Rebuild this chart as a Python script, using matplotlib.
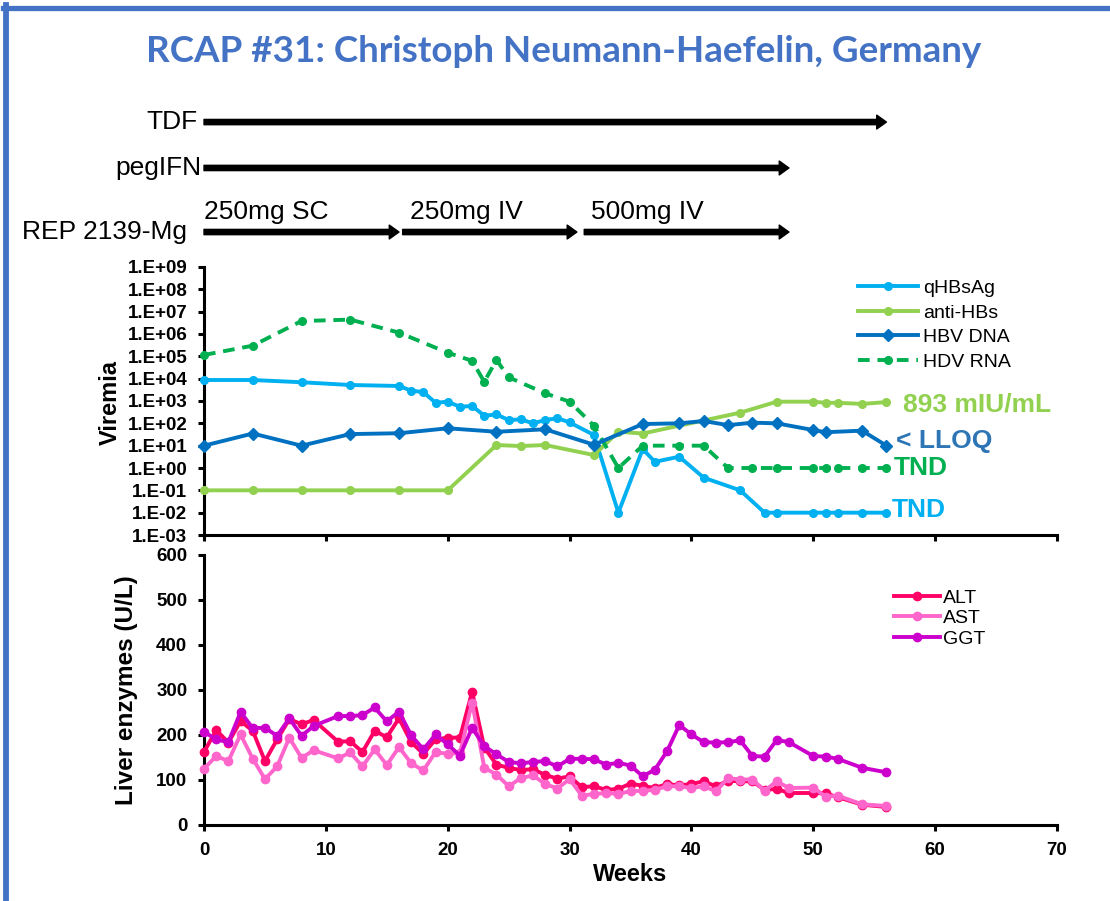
import matplotlib
matplotlib.use('Agg')
import matplotlib.pyplot as plt
import numpy as np
from matplotlib.lines import Line2D
from matplotlib.ticker import FuncFormatter, NullLocator

# treatment bars (weeks)
treatments = ['TDF', 'pegIFN', 'REP 2139-Mg']
tx_start = [0, 0, 0]
tx_end = [56, 48, 48]
rep_doses = ['250mg SC', '250mg IV', '500mg IV']
rep_start = [0, 16.3, 31.2]
rep_end = [16, 30.6, 48]

# viremia
hbsag_weeks = [0, 4, 8, 12, 16, 17, 18, 19, 20, 21, 22, 23, 24, 25, 26, 27, 28, 29, 30,
               32, 34, 36, 37, 39, 41, 44, 46, 47, 50, 51, 52, 54, 56]
hbsag = [8700, 8700, 6900, 5200, 4700, 2900, 2500, 830, 930, 550, 600, 220, 250, 140, 150,
         100, 140, 170, 110, 30, 0.01, 7, 1.9, 3.2, 0.37, 0.1, 0.01, 0.01, 0.01, 0.01, 0.01,
         0.01, 0.01]
antihbs_weeks = [0, 4, 8, 12, 16, 20, 24, 26, 28, 32, 34, 36, 44, 47, 50, 51, 52, 54, 56]
antihbs = [0.1, 0.1, 0.1, 0.1, 0.1, 0.1, 10.7, 9.6, 10.7, 3.8, 42, 35, 300, 930, 930, 830,
           830, 740, 893]
hbv_weeks = [0, 4, 8, 12, 16, 20, 24, 28, 32, 36, 39, 41, 43, 45, 47, 50, 51, 54, 56]
hbv_dna = [10, 35, 10, 33, 36, 60, 42, 54, 11, 93, 100, 127, 83, 107, 100, 50, 40, 47, 10]
hdv_weeks = [0, 4, 8, 12, 16, 20, 22, 23, 24, 25, 28, 30, 32, 34, 36, 39, 41, 43, 45, 47,
             50, 51, 52, 54, 56]
hdv_rna = [1.15e5, 3.0e5, 3.8e6, 4.4e6, 1.15e6, 1.45e5, 6.3e4, 7.2e3, 6.9e4, 1.15e4, 2.2e3,
           930, 78, 1, 10, 10, 10, 1, 1, 1, 1, 1, 1, 1, 1]

# liver enzymes
lft_weeks = list(range(0, 10)) + list(range(11, 49)) + [50, 51, 52, 54, 56]
alt = [162, 211, 183, 231, 209, 142, 190, 235, 224, 233,
       185, 186, 162, 209, 195, 237, 184, 158, 190, 194, 194, 296, 172, 134, 127, 122, 124,
       111, 103, 108,
       84, 86, 78, 80, 92, 87, 82, 91, 88, 91, 97, 86, 98, 97, 97, 78, 80, 71,
       71, 70, 62, 45, 40]
ast = [125, 153, 142, 201, 147, 102, 130, 194, 149, 166,
       148, 161, 130, 168, 133, 173, 137, 121, 162, 158, 160, 272, 127, 112, 86, 104, 110,
       91, 81, 102,
       65, 69, 71, 69, 75, 76, 78, 86, 86, 82, 86, 75, 104, 101, 101, 76, 97, 82,
       83, 63, 65, 46, 42]
ggt = [207, 190, 184, 251, 215, 216, 198, 237, 198, 220,
       242, 242, 244, 261, 230, 252, 199, 168, 201, 179, 154, 216, 175, 157, 140, 137, 140,
       142, 130, 147,
       147, 146, 134, 138, 132, 108, 123, 164, 222, 201, 184, 183, 184, 188, 153, 152, 189,
       184,
       153, 152, 147, 127, 117]

plt.rcParams['font.family'] = ['Liberation Sans', 'DejaVu Sans']

fig = plt.figure(figsize=(11.1, 9.01), dpi=100)

# blue slide frame
blue = '#4472C4'
fig.add_artist(Line2D([3 / 1110, 1], [1 - 7.5 / 901, 1 - 7.5 / 901], color=blue, lw=3.8,
                      transform=fig.transFigure))
fig.add_artist(Line2D([6 / 1110, 6 / 1110], [0, 1 - 5 / 901], color=blue, lw=4.2,
                      transform=fig.transFigure))

fig.text(564 / 1110, 1 - 52 / 901, 'RCAP #31: Christoph Neumann-Haefelin, Germany',
         ha='center', va='center', fontsize=26.5, fontweight='bold', color=blue,
         family='Lato')

# treatment arrows
ax_tx = fig.add_axes([0.1838, 0.7225, 0.7685, 0.1665])
ax_tx.set_xlim(0, 70)
ax_tx.set_ylim(0, 1)
ax_tx.axis('off')
arrow = dict(arrowstyle='simple,head_width=1.0,head_length=0.7,tail_width=0.38',
             color='black', mutation_scale=10, shrinkA=0, shrinkB=0)
tx_y = [0.853, 0.547, 0.12]
lab_off = [-5, -2, -12]
for name, s, e, y, off in zip(treatments, tx_start, tx_end, tx_y, lab_off):
    if name != 'REP 2139-Mg':
        ax_tx.annotate('', xy=(e, y), xytext=(s, y), arrowprops=arrow)
    ax_tx.annotate(name, xy=(s, y), xytext=(off, 0), textcoords='offset points',
                   ha='right', va='center', fontsize=19)
for dose, s, e in zip(rep_doses, rep_start, rep_end):
    ax_tx.annotate('', xy=(e, tx_y[2]), xytext=(s, tx_y[2]), arrowprops=arrow)
    ax_tx.annotate(dose, xy=(s, 0.253), xytext=(0 if s == 0 else 5, 0),
                   textcoords='offset points', ha='left', va='center', fontsize=19)


def style_axis(ax):
    for side in ['top', 'right']:
        ax.spines[side].set_visible(False)
    for side in ['left', 'bottom']:
        ax.spines[side].set_linewidth(2.2)
    ax.tick_params(direction='out', length=4, width=2.2, pad=8, labelsize=13.5)
    for t in ax.get_yticklabels() + ax.get_xticklabels():
        t.set_fontweight('bold')


# viremia panel
ax1 = fig.add_axes([0.1838, 0.4062, 0.7685, 0.2975])
ax1.set_yscale('log')
ax1.set_xlim(0, 70)
ax1.set_ylim(1e-3, 1e9)
ax1.set_yticks([10.0 ** k for k in range(-3, 10)])
ax1.yaxis.set_minor_locator(NullLocator())
ax1.yaxis.set_major_formatter(FuncFormatter(lambda v, p: f"1.E{int(round(np.log10(v))):+03d}"))
ax1.set_xticks(range(0, 71, 10))
ax1.tick_params(labelbottom=False)

lw = 2.8
ax1.plot(hbsag_weeks, hbsag, color='#00B0F0', lw=lw, marker='o', ms=5.5, label='qHBsAg',
         clip_on=False, zorder=3)
ax1.plot(antihbs_weeks, antihbs, color='#92D050', lw=lw, marker='o', ms=5.5, label='anti-HBs',
         clip_on=False, zorder=3)
ax1.plot(hbv_weeks, hbv_dna, color='#0070C0', lw=lw, marker='D', ms=6.5, label='HBV DNA',
         clip_on=False, zorder=4)
ax1.plot(hdv_weeks, hdv_rna, color='#00B050', lw=lw, ls=(0, (3, 2)), marker='o', ms=5.5,
         label='HDV RNA', clip_on=False, zorder=3)
style_axis(ax1)
ax1.legend(loc='upper left', bbox_to_anchor=(0.755, 0.99), frameon=False, fontsize=14,
           handlelength=3.1, handletextpad=0.25, labelspacing=0.36, borderpad=0)

ann = dict(textcoords='offset points', va='center', fontsize=19, fontweight='bold')
ax1.annotate('893 mIU/mL', xy=(56, antihbs[-1]), xytext=(12, -2), color='#92D050', **ann)
ax1.annotate('< LLOQ', xy=(56, hbv_dna[-1]), xytext=(7, 3), color='#2E75B6', **ann)
ax1.annotate('TND', xy=(56, hdv_rna[-1]), xytext=(5, 0), color='#00B050', **ann)
ax1.annotate('TND', xy=(56, hbsag[-1]), xytext=(4, 2), color='#00B0F0', **ann)
fig.text(110 / 1110, 1 - 402 / 901, 'Viremia', rotation=90, ha='center', va='center',
         fontsize=17, fontweight='bold')

# liver enzymes panel
ax2 = fig.add_axes([0.1838, 0.0844, 0.7685, 0.2997])
ax2.set_xlim(0, 70)
ax2.set_ylim(0, 600)
ax2.set_yticks(range(0, 601, 100))
ax2.set_xticks(range(0, 71, 10))
ax2.plot(lft_weeks, alt, color='#FF0066', lw=lw, marker='o', ms=6, label='ALT',
         clip_on=False, zorder=3)
ax2.plot(lft_weeks, ast, color='#FF66CC', lw=lw, marker='o', ms=6, label='AST',
         clip_on=False, zorder=3)
ax2.plot(lft_weeks, ggt, color='#CC00CC', lw=lw, marker='o', ms=6, label='GGT',
         clip_on=False, zorder=3)
style_axis(ax2)
ax2.legend(loc='upper left', bbox_to_anchor=(0.797, 0.91), frameon=False, fontsize=14,
           handlelength=2.4, handletextpad=0.15, labelspacing=0.15, borderpad=0)
ax2.set_xlabel('Weeks', fontsize=17, fontweight='bold', labelpad=3)
fig.text(127 / 1110, 1 - 690 / 901, 'Liver enzymes (U/L)', rotation=90, ha='center',
         va='center', fontsize=17.5, fontweight='bold')

fig.savefig('out.png', dpi=100)
